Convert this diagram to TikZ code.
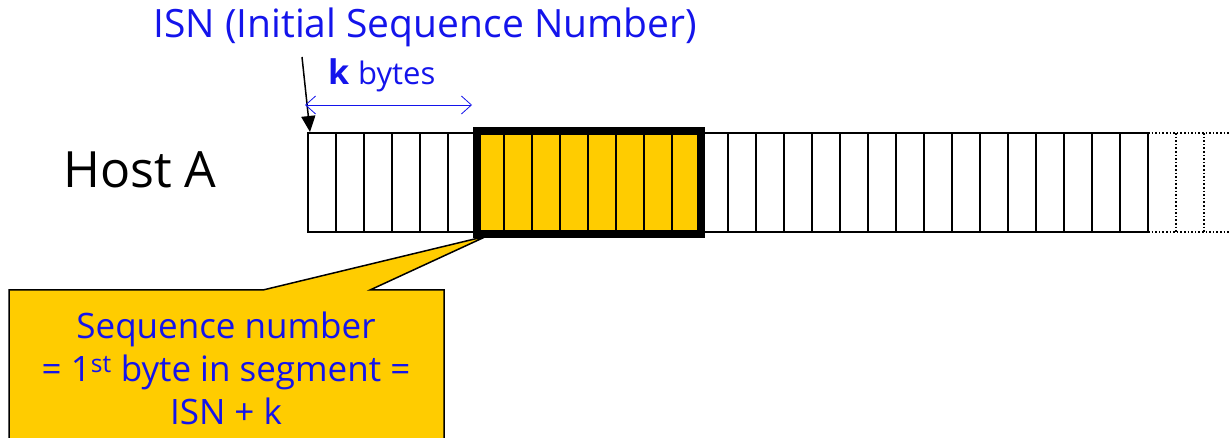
\documentclass[tikz,border=0pt]{standalone}
\usepackage{fontspec}
\setmainfont{Open Sans}
\usetikzlibrary{arrows.meta}
\definecolor{segyellow}{HTML}{FFCC00}
\definecolor{txtblue}{RGB}{20,20,235}
\begin{document}
\begin{tikzpicture}[x=1pt,y=-1pt,
  celline/.style={line width=1.6pt,black},
  dotline/.style={line width=1.6pt,black,dotted},
  bluetext/.style={text=txtblue,inner sep=0pt},
]
\useasboundingbox (0,0) rectangle (1229,438);
% callout
\path[fill=segyellow,draw=black,line width=1.5pt]
  (9,290) -- (263,290) -- (487,236) -- (370,290) -- (444,290) -- (444,450) -- (9,450) -- cycle;
\node[bluetext,align=center,font=\fontsize{35}{43}\selectfont] (note) at (226,368)
  {Sequence number\\= 1\textsuperscript{st} byte in segment =\\ISN + k};
% strip
\coordinate (s0) at (308,133);
\coordinate (s1) at (1148,232);
\fill[segyellow] (476,133) rectangle (700,232);
\draw[celline] (s0) rectangle (s1);
\foreach \i in {1,...,29} {
  \draw[celline] ({308+28*\i},133) -- ({308+28*\i},232);
}
\draw[line width=8pt,black] (477,131) rectangle (701,234);
\draw[dotline] (1148,133) -- (1229,133);
\draw[dotline] (1148,232) -- (1229,232);
\draw[dotline] (1176,133) -- (1176,232);
\draw[dotline] (1204,133) -- (1204,232);
% labels
\node[anchor=west,inner sep=0pt,font=\fontsize{50}{56}\selectfont] (host) at (63,170) {Host A};
\node[bluetext,anchor=west,font=\fontsize{39}{44}\selectfont] (isn) at (153,27) {ISN (Initial Sequence Number)};
\node[bluetext,anchor=base west,font=\fontsize{34}{38}\selectfont\bfseries] (k) at (328,85) {k};
\node[bluetext,anchor=base west,font=\fontsize{31}{36}\selectfont] (bytes) at (358,85) {bytes};
\coordinate (isnstart) at (302,57);
\coordinate (isntip) at (310,132);
\draw[line width=1.5pt,-{Triangle[length=16pt,width=14pt]}] (isnstart) -- (isntip);
\coordinate (ka) at (305,105);
\coordinate (kb) at (472,105);
\draw[txtblue,line width=0.8pt,{Straight Barb[length=10pt,width=18pt]}-{Straight Barb[length=10pt,width=18pt]}] (ka) -- (kb);
\end{tikzpicture}
\end{document}
